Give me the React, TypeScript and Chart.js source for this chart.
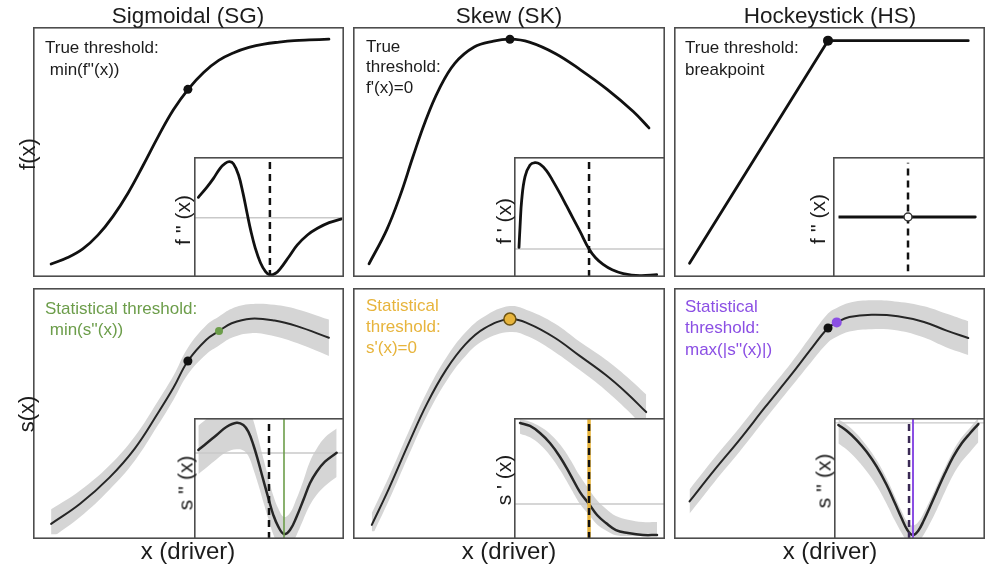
import React, { useEffect, useRef } from "react";
import { Chart, registerables } from "chart.js";

Chart.register(...registerables);

// Every panel uses the same unit square (0..10 on both axes).
const AXIS_MIN = 0;
const AXIS_MAX = 10;

// ---------- Top row: true response curves f(x) ----------
const sgX = [0.45, 1.0, 1.5, 2.0, 2.5, 3.0, 3.5, 4.0, 4.5, 5.0, 5.5, 6.0, 6.5, 7.0, 7.5, 8.0, 8.5, 9.0, 9.65];
const sgF = [0.35, 0.62, 0.98, 1.55, 2.33, 3.3, 4.45, 5.65, 6.75, 7.62, 8.3, 8.8, 9.12, 9.34, 9.48, 9.56, 9.62, 9.65, 9.68];
const sgTrue = [4.98, 7.6];

const skX = [0.38, 0.96, 1.41, 1.83, 2.24, 2.69, 3.21, 3.85, 4.49, 5.03, 5.67, 6.54, 7.37, 8.24, 9.1, 9.62];
const skF = [0.36, 1.76, 3.2, 4.8, 6.28, 7.6, 8.68, 9.36, 9.6, 9.68, 9.56, 9.08, 8.4, 7.6, 6.68, 6.0];
const skTrue = [5.03, 9.68];

const hsX = [0.35, 4.95, 9.61];
const hsF = [0.36, 9.64, 9.64];
const hsTrue = [4.95, 9.64];

// Insets of the top row: derivatives of f
const sgD2X = [0.29, 0.85, 1.3, 1.74, 2.08, 2.37, 2.64, 2.97, 3.27, 3.54, 3.8, 4.09, 4.43, 4.77, 5.06, 5.44, 5.77, 6.33, 6.89, 7.56, 8.23, 9.01, 9.8];
const sgD2 = [6.64, 7.47, 8.22, 9.06, 9.47, 9.61, 9.42, 8.5, 6.97, 5.31, 3.78, 2.39, 1.19, 0.44, 0.17, 0.31, 0.72, 1.69, 2.67, 3.5, 4.06, 4.53, 4.83];
const sgD2Zero = 4.94;
const sgD2Mark = 5.06;

const skD1X = [0.33, 0.4, 0.51, 0.73, 1.06, 1.39, 1.72, 2.16, 2.6, 3.05, 3.49, 3.93, 4.37, 4.97, 5.4, 5.9, 6.5, 7.24, 8.34, 9.45];
const skD1 = [2.47, 4.19, 6.42, 8.36, 9.33, 9.53, 9.4, 8.85, 7.95, 6.95, 5.9, 4.85, 3.8, 2.33, 1.6, 1.05, 0.6, 0.28, 0.11, 0.19];
const skD1Zero = 2.33;
const skD1Mark = 4.97;

const hsD2X = [0.0, 9.7];
const hsD2 = [5.0, 5.0];
const hsD2Mark = 4.93;

// ---------- Bottom row: fitted smooths s(x) with confidence bands ----------
const sgSX = [0.45, 1.41, 2.38, 3.22, 3.99, 4.5, 4.98, 5.59, 6.01, 6.43, 7.07, 7.85, 8.59, 9.65];
const sgS = [0.44, 1.27, 2.35, 3.55, 5.02, 6.06, 7.17, 8.05, 8.41, 8.73, 8.92, 8.84, 8.61, 8.13];
const sgSHalf = [0.6, 0.55, 0.5, 0.5, 0.5, 0.5, 0.55, 0.6, 0.6, 0.6, 0.6, 0.65, 0.7, 0.75];
const sgStat = [6.01, 8.41];
const sgTrueS = [4.98, 7.17];

const skSX = [0.38, 0.96, 1.6, 2.24, 2.88, 3.53, 4.17, 5.03, 5.67, 6.54, 7.37, 8.24, 8.97, 9.62];
const skS = [0.28, 1.83, 3.67, 5.42, 6.85, 7.93, 8.61, 9.0, 8.8, 8.21, 7.45, 6.65, 5.86, 5.06];
const skSHalf = [0.5, 0.5, 0.5, 0.5, 0.5, 0.5, 0.5, 0.55, 0.55, 0.6, 0.6, 0.65, 0.7, 0.75];
const skStat = [5.03, 9.0];

const hsSX = [0.35, 1.16, 2.03, 2.86, 3.73, 4.37, 4.95, 5.24, 5.66, 6.4, 7.27, 8.14, 8.87, 9.61];
const hsS = [1.35, 2.63, 3.94, 5.26, 6.61, 7.65, 8.55, 8.78, 9.0, 9.1, 9.04, 8.8, 8.45, 8.13];
const hsSHalf = [0.5, 0.5, 0.5, 0.5, 0.5, 0.55, 0.6, 0.6, 0.6, 0.6, 0.6, 0.65, 0.7, 0.7];
const hsTrueS = [4.95, 8.55];
const hsStat = [5.24, 8.78];

// Insets of the bottom row: derivatives of s
const sgS2X = [0.29, 0.84, 1.51, 2.18, 2.84, 3.29, 3.62, 3.96, 4.29, 4.62, 4.96, 5.29, 5.62, 6.0, 6.4, 6.84, 7.29, 7.73, 8.18, 8.73, 9.51];
const sgS2 = [7.36, 7.91, 8.6, 9.28, 9.61, 9.42, 8.87, 7.77, 6.39, 4.88, 3.36, 1.98, 1.02, 0.41, 0.74, 1.84, 3.22, 4.6, 5.56, 6.39, 7.13];
const sgS2Half = [2.0, 2.0, 2.0, 2.1, 2.2, 2.1, 2.0, 2.0, 1.9, 1.8, 1.7, 1.6, 1.5, 1.4, 1.4, 1.5, 1.6, 1.8, 1.9, 2.0, 2.0];
const sgS2Zero = 7.1;
const sgS2True = 5.0;
const sgS2Stat = 6.0;

const skS1X = [0.4, 1.06, 1.72, 2.38, 3.05, 3.71, 4.37, 4.97, 5.5, 6.09, 6.75, 7.55, 8.54, 9.47];
const skS1 = [9.59, 9.34, 8.76, 7.93, 6.78, 5.37, 3.88, 2.89, 1.98, 1.32, 0.74, 0.5, 0.33, 0.33];
const skS1Hi = [9.9, 9.7, 9.3, 8.7, 7.8, 6.6, 5.2, 4.1, 3.2, 2.5, 1.9, 1.6, 1.4, 1.4];
const skS1Lo = [8.7, 8.4, 7.8, 6.9, 5.7, 4.3, 2.9, 2.0, 1.2, 0.7, 0.3, 0.25, 0.25, 0.25];
const skS1Zero = 2.89;
const skS1True = 4.97;
const skS1Stat = 4.97;

const hsS2X = [0.29, 0.84, 1.5, 2.16, 2.83, 3.49, 4.04, 4.48, 4.86, 5.21, 5.58, 5.96, 6.36, 6.8, 7.35, 7.9, 8.46, 9.01, 9.56];
const hsS2 = [9.42, 8.95, 8.18, 7.21, 5.98, 4.46, 2.95, 1.71, 0.74, 0.33, 0.69, 1.57, 2.67, 3.91, 5.43, 6.8, 7.91, 8.74, 9.5];
const hsS2Hi = [9.9, 9.45, 8.7, 7.7, 6.5, 5.0, 3.5, 2.3, 1.4, 1.1, 1.4, 2.2, 3.2, 4.4, 5.9, 7.3, 8.4, 9.2, 10.0];
const hsS2Lo = [7.9, 7.4, 6.6, 5.6, 4.4, 2.9, 1.5, 0.5, -0.2, -0.5, -0.2, 0.4, 1.3, 2.4, 3.9, 5.3, 6.4, 7.2, 8.0];
const hsS2Zero = 9.6;
const hsS2True = 4.97;
const hsS2Stat = 5.23;

// ---------- Text ----------
const columnTitles = ["Sigmoidal (SG)", "Skew (SK)", "Hockeystick (HS)"];
const xAxisLabel = "x (driver)";
const rowLabels = ["f(x)", "s(x)"];
const topInsetLabels = ["f '' (x)", "f ' (x)", "f '' (x)"];
const bottomInsetLabels = ["s '' (x)", "s ' (x)", "s '' (x)"];
const trueNotes = [["True threshold:", " min(f''(x))"], ["True", "threshold:", "f'(x)=0"], ["True threshold:", "breakpoint"]];
const statNotes = [["Statistical threshold:", " min(s''(x))"], ["Statistical", "threshold:", "s'(x)=0"], ["Statistical", "threshold:", "max(|s''(x)|)"]];

// ---------- Styling ----------
const FONT = '"Liberation Sans", Arial, Helvetica, sans-serif';
const INK = "#111111";
const SMOOTH_INK = "#262626";
const BAND = "#d5d5d5";
const ZERO = "#c9c9c9";
const FRAME = "#4d4d4d";
const GREEN = "#6c9d4a";
const GOLD = "#e7b43c";
const PURPLE = "#8b4fe4";
const TENSION = 0.4;

type Box = { x: number; y: number; w: number; h: number };

const pts = (xs: number[], ys: number[]) => xs.map((x, i) => ({ x, y: ys[i] }));

function curve(xs: number[], ys: number[], color: string, width: number, smooth = true) {
  return {
    data: pts(xs, ys),
    borderColor: color,
    borderWidth: width,
    pointRadius: 0,
    fill: false,
    tension: smooth ? TENSION : 0,
    borderCapStyle: "round",
    borderJoinStyle: "round",
    order: 3,
  };
}

function band(xs: number[], lo: number[], hi: number[]) {
  return [
    {
      data: pts(xs, hi),
      borderWidth: 0,
      borderColor: "rgba(0,0,0,0)",
      backgroundColor: BAND,
      pointRadius: 0,
      fill: "+1",
      tension: TENSION,
      order: 8,
    },
    {
      data: pts(xs, lo),
      borderWidth: 0,
      borderColor: "rgba(0,0,0,0)",
      pointRadius: 0,
      fill: false,
      tension: TENSION,
      order: 8,
    },
  ];
}

function bandAround(xs: number[], ys: number[], half: number[]) {
  return band(
    xs,
    ys.map((y, i) => y - half[i]),
    ys.map((y, i) => y + half[i])
  );
}

function vline(x: number, color: string, width: number, dash: number[] = [], order = 1) {
  return {
    data: [{ x, y: AXIS_MIN }, { x, y: AXIS_MAX }],
    borderColor: color,
    borderWidth: width,
    borderDash: dash,
    borderCapStyle: "butt",
    pointRadius: 0,
    fill: false,
    order,
  };
}

function hline(y: number, color: string, width: number, order = 6) {
  return {
    data: [{ x: AXIS_MIN, y }, { x: AXIS_MAX, y }],
    borderColor: color,
    borderWidth: width,
    pointRadius: 0,
    fill: false,
    order,
  };
}

function dot(p: number[], fill: string, stroke: string, radius: number, border = 0, order = 0) {
  return {
    data: [{ x: p[0], y: p[1] }],
    showLine: false,
    pointRadius: radius,
    pointBackgroundColor: fill,
    pointBorderColor: stroke,
    pointBorderWidth: border,
    order,
  };
}

const DASH = [7, 5];

const framePlugin = {
  id: "frame",
  beforeDraw(chart: any) {
    const { ctx, width, height } = chart;
    ctx.save();
    ctx.fillStyle = "#ffffff";
    ctx.fillRect(0, 0, width, height);
    ctx.restore();
  },
  afterDraw(chart: any) {
    const { ctx, width, height } = chart;
    ctx.save();
    ctx.strokeStyle = FRAME;
    ctx.lineWidth = 1.6;
    ctx.strokeRect(0.8, 0.8, width - 1.6, height - 1.6);
    ctx.restore();
  },
};

function Plot({ box, datasets }: { box: Box; datasets: any[] }) {
  const ref = useRef<HTMLCanvasElement>(null);
  useEffect(() => {
    const chart = new Chart(ref.current as HTMLCanvasElement, {
      type: "line",
      data: { datasets },
      options: {
        animation: false,
        responsive: false,
        events: [],
        layout: { padding: 0 },
        scales: {
          x: { type: "linear", min: AXIS_MIN, max: AXIS_MAX, display: false },
          y: { type: "linear", min: AXIS_MIN, max: AXIS_MAX, display: false },
        },
        plugins: { legend: { display: false }, tooltip: { enabled: false } },
      } as any,
      plugins: [framePlugin],
    });
    return () => chart.destroy();
  }, []);
  return (
    <canvas
      ref={ref}
      width={box.w}
      height={box.h}
      style={{ position: "absolute", left: box.x, top: box.y, width: box.w, height: box.h }}
    />
  );
}

function Text({ x, baseline, size, color = "#1c1c1c", center = false, children }: any) {
  return (
    <div
      style={{
        position: "absolute",
        left: x,
        top: baseline - 0.8465 * size,
        fontSize: size,
        lineHeight: `${size}px`,
        fontFamily: FONT,
        color,
        whiteSpace: "pre",
        transform: center ? "translateX(-50%)" : undefined,
      }}
    >
      {children}
    </div>
  );
}

function VText({ cx, cy, size, children }: any) {
  return (
    <div
      style={{
        position: "absolute",
        left: cx,
        top: cy,
        fontSize: size,
        lineHeight: `${size}px`,
        fontFamily: FONT,
        color: "#1c1c1c",
        whiteSpace: "pre",
        transform: "translate(-50%, -50%) rotate(-90deg)",
      }}
    >
      {children}
    </div>
  );
}

// Panel geometry
const mainBoxes: Box[] = [
  { x: 33, y: 27, w: 311, h: 250 },
  { x: 353, y: 27, w: 312, h: 250 },
  { x: 674, y: 27, w: 311, h: 250 },
  { x: 33, y: 288, w: 311, h: 251 },
  { x: 353, y: 288, w: 312, h: 251 },
  { x: 674, y: 288, w: 311, h: 251 },
];
const insetBoxes: Box[] = [
  { x: 194, y: 157, w: 150, h: 120 },
  { x: 514, y: 157, w: 151, h: 120 },
  { x: 833, y: 157, w: 152, h: 120 },
  { x: 194, y: 418, w: 150, h: 121 },
  { x: 514, y: 418, w: 151, h: 121 },
  { x: 834, y: 418, w: 151, h: 121 },
];

const mainSets: any[][] = [
  [curve(sgX, sgF, INK, 2.8), dot(sgTrue, INK, INK, 4.5)],
  [curve(skX, skF, INK, 2.8), dot(skTrue, INK, INK, 4.5)],
  [curve(hsX, hsF, INK, 2.8, false), dot(hsTrue, INK, INK, 5)],
  [
    ...bandAround(sgSX, sgS, sgSHalf),
    curve(sgSX, sgS, SMOOTH_INK, 2),
    dot(sgStat, GREEN, GREEN, 4),
    dot(sgTrueS, INK, INK, 4.5),
  ],
  [...bandAround(skSX, skS, skSHalf), curve(skSX, skS, SMOOTH_INK, 2), dot(skStat, GOLD, "#6e5412", 6, 1.5)],
  [
    ...bandAround(hsSX, hsS, hsSHalf),
    curve(hsSX, hsS, SMOOTH_INK, 2),
    dot(hsStat, PURPLE, PURPLE, 5, 0, 0),
    dot(hsTrueS, INK, INK, 4.5, 0, 1),
  ],
];

const insetSets: any[][] = [
  [hline(sgD2Zero, ZERO, 1.5), vline(sgD2Mark, INK, 2.5, DASH), curve(sgD2X, sgD2, INK, 2.8)],
  [hline(skD1Zero, ZERO, 1.5), vline(skD1Mark, INK, 2.5, DASH), curve(skD1X, skD1, INK, 2.8)],
  [vline(hsD2Mark, INK, 2.5, DASH, 4), curve(hsD2X, hsD2, INK, 2.8, false), dot([hsD2Mark, hsD2[0]], "#ffffff", "#333333", 4, 1.5)],
  [
    ...bandAround(sgS2X, sgS2, sgS2Half),
    hline(sgS2Zero, ZERO, 1.5),
    vline(sgS2Stat, GREEN, 1.6, [], 2),
    vline(sgS2True, INK, 2.5, DASH, 1),
    curve(sgS2X, sgS2, SMOOTH_INK, 2.5),
  ],
  [
    ...band(skS1X, skS1Lo, skS1Hi),
    hline(skS1Zero, ZERO, 1.5),
    vline(skS1Stat, GOLD, 3.5, [], 2),
    vline(skS1True, INK, 2.5, DASH, 1),
    curve(skS1X, skS1, SMOOTH_INK, 2.5),
  ],
  [
    ...band(hsS2X, hsS2Lo, hsS2Hi),
    hline(hsS2Zero, ZERO, 1.2),
    vline(hsS2True, "#3a2a55", 2.5, DASH, 2),
    vline(hsS2Stat, PURPLE, 2, [], 1),
    curve(hsS2X, hsS2, SMOOTH_INK, 2.5),
  ],
];

const columnCenters = [188, 509, 830];
const noteLefts = [45, 366, 685];
const statColors = [GREEN, GOLD, PURPLE];
const insetLabelPos = [
  [182, 220],
  [503, 221],
  [817, 219],
  [185, 483],
  [503, 480],
  [823, 481],
];

export default function App() {
  const notesTopBase = [[53.5, 75], [52, 72.5, 93], [53.5, 75]];
  const notesBottomBase = [[314, 335], [311, 332, 353], [312, 333, 355]];
  return (
    <div style={{ position: "absolute", left: 0, top: 0, width: 988, height: 566, background: "#ffffff", overflow: "hidden" }}>
      {mainBoxes.map((b, i) => (
        <Plot key={"m" + i} box={b} datasets={mainSets[i]} />
      ))}
      {insetBoxes.map((b, i) => (
        <Plot key={"i" + i} box={b} datasets={insetSets[i]} />
      ))}

      {columnTitles.map((t, i) => (
        <Text key={"t" + i} x={columnCenters[i]} baseline={24} size={22.5} center>
          {t}
        </Text>
      ))}
      {columnTitles.map((_, i) => (
        <Text key={"x" + i} x={columnCenters[i]} baseline={559} size={24} center>
          {xAxisLabel}
        </Text>
      ))}
      <VText cx={27.5} cy={154} size={22}>
        {rowLabels[0]}
      </VText>
      <VText cx={27} cy={414} size={22}>
        {rowLabels[1]}
      </VText>

      {trueNotes.map((lines, i) =>
        lines.map((line, j) => (
          <Text key={`tn${i}${j}`} x={noteLefts[i]} baseline={notesTopBase[i][j]} size={17}>
            {line}
          </Text>
        ))
      )}
      {statNotes.map((lines, i) =>
        lines.map((line, j) => (
          <Text key={`sn${i}${j}`} x={noteLefts[i]} baseline={notesBottomBase[i][j]} size={17} color={statColors[i]}>
            {line}
          </Text>
        ))
      )}

      {[...topInsetLabels, ...bottomInsetLabels].map((t, i) => (
        <VText key={"il" + i} cx={insetLabelPos[i][0]} cy={insetLabelPos[i][1]} size={21}>
          {t}
        </VText>
      ))}
    </div>
  );
}
